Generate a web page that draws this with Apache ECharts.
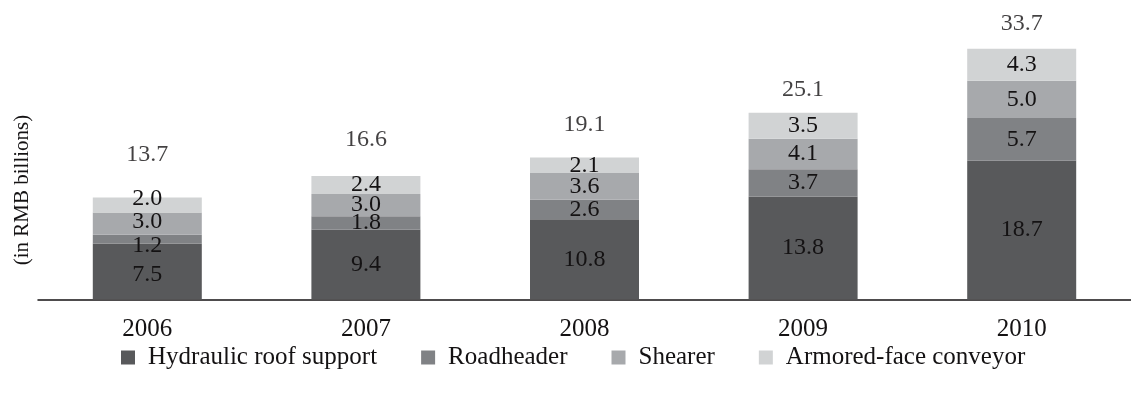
<!DOCTYPE html>
<html>
<head>
<meta charset="utf-8">
<script src="https://cdn.jsdelivr.net/npm/echarts@6/dist/echarts.min.js"></script>
<style>
html,body{margin:0;padding:0;background:#fff;}
#chart{width:1131px;height:393px;}
</style>
</head>
<body>
<div id="chart"></div>
<script>
const years = ['2006', '2007', '2008', '2009', '2010'];
const seriesNames = ['Hydraulic roof support', 'Roadheader', 'Shearer', 'Armored-face conveyor'];
const hydraulic = [7.5, 9.4, 10.8, 13.8, 18.7];
const roadheader = [1.2, 1.8, 2.6, 3.7, 5.7];
const shearer = [3.0, 3.0, 3.6, 4.1, 5.0];
const armored = [2.0, 2.4, 2.1, 3.5, 4.3];
const totals = [13.7, 16.6, 19.1, 25.1, 33.7];

// styling
const colors = ['#58595b', '#808285', '#a7a9ac', '#d1d3d4'];
const totalGap = [43, 36, 33, 23, 25];
// vertical label nudges (px) per series, per category, to spread crowded labels
const labelNudge = [[3, 0, 0, 0, 0], [6, 0, 0, 0, 0], [-2, 0, 0, 0, 0], [-6, 0, 0, 0, 0]];
const FONT = '"Liberation Serif", "Times New Roman", serif';
const textColor = '#141213';

const chart = echarts.init(document.getElementById('chart'));
const values = [hydraulic, roadheader, shearer, armored];

const barSeries = seriesNames.map((name, i) => ({
  name: name,
  type: 'bar',
  stack: 'total',
  barWidth: 109,
  itemStyle: { color: colors[i] },
  label: {
    show: true,
    position: 'inside',
    fontFamily: FONT,
    fontSize: 24,
    color: textColor,
    formatter: p => p.value.toFixed(1)
  },
  emphasis: { disabled: true },
  data: values[i].map((v, j) => ({ value: v, label: { offset: [0, labelNudge[i][j]] } }))
}));

const totalSeries = {
  name: 'total',
  type: 'scatter',
  symbolSize: 0,
  silent: true,
  z: 5,
  data: totals.map((v, i) => ({
    value: v,
    label: { offset: [0, -totalGap[i]] }
  })),
  label: {
    show: true,
    position: 'inside',
    fontFamily: FONT,
    fontSize: 24,
    color: textColor,
    formatter: p => p.value.toFixed(1)
  }
};

chart.setOption({
  animation: false,
  backgroundColor: '#ffffff',
  grid: { left: 38, top: 2, width: 1100, height: 297.5, containLabel: false },
  xAxis: {
    type: 'category',
    data: years,
    axisLine: { lineStyle: { color: textColor, width: 1.5 } },
    axisTick: { show: false },
    axisLabel: { fontFamily: FONT, fontSize: 25, color: textColor, margin: 17 }
  },
  yAxis: {
    type: 'value',
    min: 0,
    max: 40,
    show: false
  },
  legend: {
    data: seriesNames,
    left: 116,
    top: 340,
    icon: 'rect',
    itemWidth: 14,
    itemHeight: 14,
    itemGap: 44,
    selectedMode: false,
    textStyle: { fontFamily: FONT, fontSize: 25, color: textColor, padding: [0, 0, 0, 8] }
  },
  graphic: [{
    type: 'text',
    x: 22,
    y: 190,
    rotation: Math.PI / 2,
    style: {
      text: '(in RMB billions)',
      font: '21px ' + FONT,
      fill: textColor,
      textAlign: 'center',
      textVerticalAlign: 'middle'
    }
  }],
  series: barSeries.concat([totalSeries])
});
</script>
</body>
</html>
